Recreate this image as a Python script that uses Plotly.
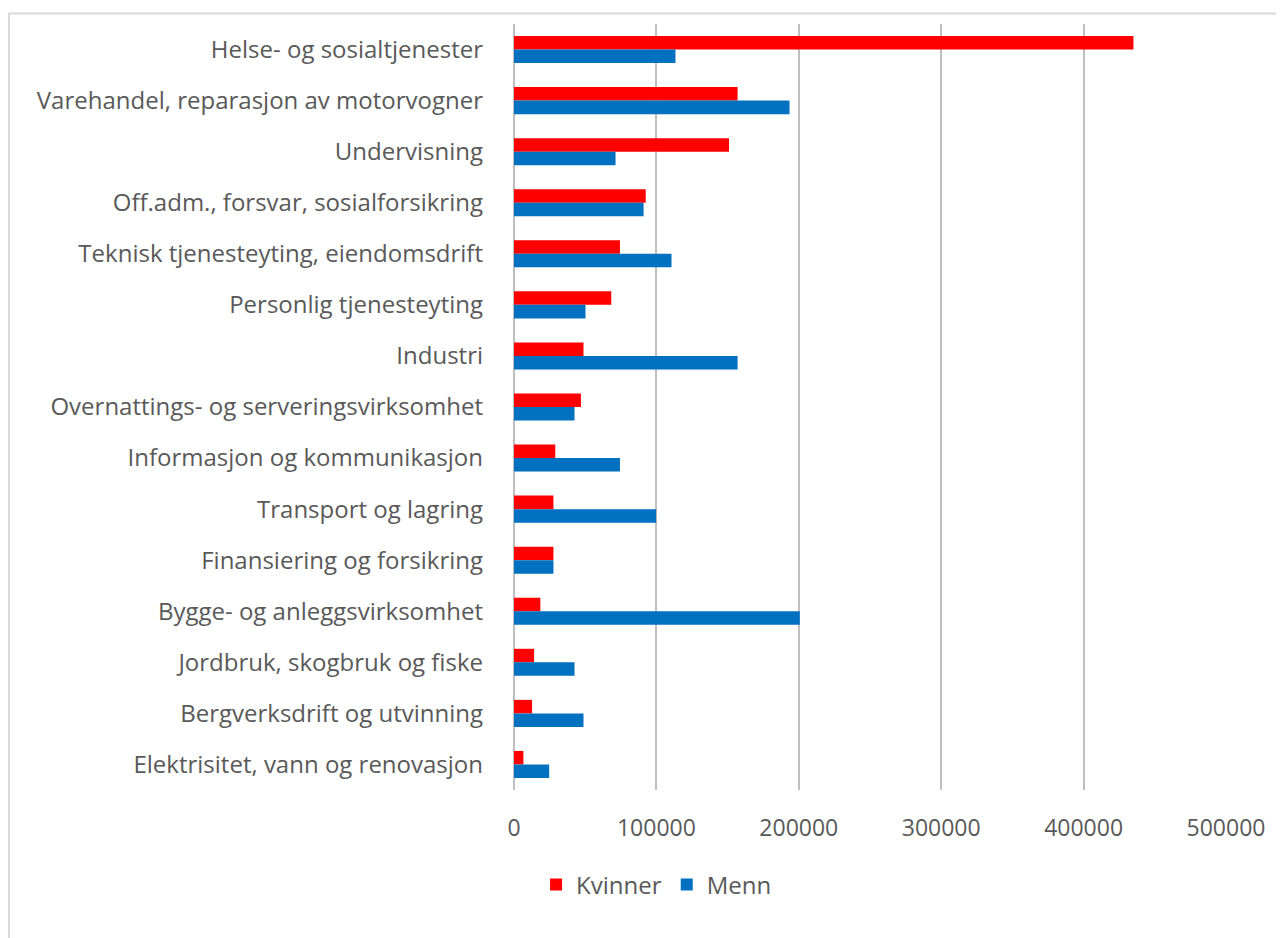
import plotly.graph_objects as go

categories = [
    "Helse- og sosialtjenester",
    "Varehandel, reparasjon av motorvogner",
    "Undervisning",
    "Off.adm., forsvar, sosialforsikring",
    "Teknisk tjenesteyting, eiendomsdrift",
    "Personlig tjenesteyting",
    "Industri",
    "Overnattings- og serveringsvirksomhet",
    "Informasjon og kommunikasjon",
    "Transport og lagring",
    "Finansiering og forsikring",
    "Bygge- og anleggsvirksomhet",
    "Jordbruk, skogbruk og fiske",
    "Bergverksdrift og utvinning",
    "Elektrisitet, vann og renovasjon",
]
kvinner = [435000, 157000, 151000, 92500, 74400, 68300, 48800, 47000,
           29000, 27700, 27700, 18500, 14100, 12700, 6600]
menn = [113400, 193500, 71300, 91000, 110600, 50200, 157000, 42500,
        74400, 99800, 27700, 200700, 42500, 48800, 24700]
x_ticks = [0, 100000, 200000, 300000, 400000, 500000]

grey = "#595959"
fig = go.Figure()
fig.add_trace(go.Bar(y=categories, x=kvinner, name="Kvinner", orientation="h",
                     marker=dict(color="#FF0000", line=dict(width=0))))
fig.add_trace(go.Bar(y=categories, x=menn, name="Menn", orientation="h",
                     marker=dict(color="#0070C0", line=dict(width=0))))

fig.update_layout(
    width=1276, height=930,
    margin=dict(l=506, r=58, t=16, b=148),
    paper_bgcolor="white", plot_bgcolor="white",
    barmode="group", bargap=0.47, bargroupgap=0,
    font=dict(family="Open Sans, sans-serif", size=23, color=grey),
    legend=dict(orientation="h", x=0.031, xanchor="left", y=-0.124, yanchor="middle",
                font=dict(size=24, color=grey), traceorder="normal",
                itemwidth=30, tracegroupgap=0),
    showlegend=True,
)
fig.update_yaxes(autorange="reversed", showgrid=False, ticks="", ticklabelstandoff=30,
                 tickfont=dict(size=24, color=grey))
fig.update_xaxes(range=[0, 500000], tickvals=x_ticks, ticktext=[str(v) for v in x_ticks],
                 showgrid=True, gridcolor="#BFBFBF", gridwidth=2,
                 zeroline=True, zerolinecolor="#BFBFBF", zerolinewidth=2,
                 ticks="", ticklabelstandoff=22, tickfont=dict(size=23, color=grey))

# faint chart frame
fig.add_shape(type="rect", xref="paper", yref="paper",
              x0=-505 / 712, x1=1.2, y0=-0.5, y1=1 + 10.5 / 766,
              line=dict(color="#D9D9D9", width=2), fillcolor="rgba(0,0,0,0)", layer="below")

fig.write_html("out.html")
